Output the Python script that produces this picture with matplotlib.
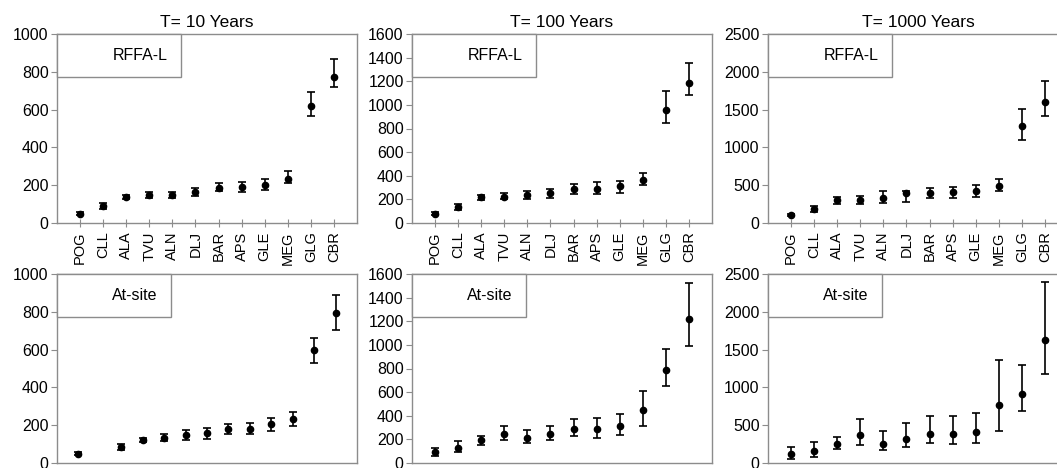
import numpy as np
import matplotlib
matplotlib.use("Agg")
import matplotlib.pyplot as plt
from matplotlib.patches import Rectangle

plt.rcParams['font.family'] = ['Liberation Sans', 'DejaVu Sans']

# Estações
stations = ['POG', 'CLL', 'ALA', 'TVU', 'ALN', 'DLJ', 'BAR', 'APS', 'GLE', 'MEG', 'GLG', 'CBR']
titles = ['T= 10 Years', 'T= 100 Years', 'T= 1000 Years']
y_max = [1000, 1600, 2500]
y_step = [200, 200, 500]

# RFFA-L (valor, limite inferior, limite superior)
rffa_10 = [48, 88, 138, 146, 150, 162, 183, 189, 199, 235, 621, 771]
rffa_10_lo = [40, 74, 127, 132, 134, 141, 168, 162, 176, 212, 568, 720]
rffa_10_hi = [57, 106, 150, 162, 164, 185, 212, 215, 233, 273, 691, 870]

rffa_100 = [79, 136, 216, 224, 235, 250, 284, 292, 312, 363, 953, 1186]
rffa_100_lo = [70, 108, 193, 199, 204, 210, 244, 244, 258, 323, 845, 1087]
rffa_100_hi = [90, 159, 238, 250, 267, 292, 329, 343, 357, 423, 1118, 1356]

rffa_1000 = [101, 190, 300, 309, 331, 392, 397, 406, 428, 494, 1287, 1600]
rffa_1000_lo = [90, 150, 256, 256, 260, 278, 331, 331, 344, 423, 1093, 1411]
rffa_1000_hi = [115, 225, 340, 362, 419, 428, 459, 481, 507, 582, 1508, 1883]

# At-site (no gráfico T=10 existe um espaço vazio na segunda posição)
at_site_10 = [50, np.nan, 84, 123, 133, 146, 157, 180, 180, 205, 231, 596, 792]
at_site_10_lo = [41, np.nan, 69, 112, 116, 123, 125, 151, 151, 169, 196, 528, 703]
at_site_10_hi = [59, np.nan, 98, 133, 151, 173, 187, 208, 212, 237, 270, 662, 888]

at_site_100 = [90, 127, 192, 248, 212, 248, 291, 291, 310, 446, 790, 1219]
at_site_100_lo = [62, 90, 155, 192, 169, 192, 226, 212, 234, 316, 649, 988]
at_site_100_hi = [127, 183, 231, 310, 282, 316, 372, 381, 418, 612, 968, 1524]

at_site_1000 = [115, 154, 247, 375, 256, 314, 389, 389, 411, 764, 910, 1625]
at_site_1000_lo = [57, 79, 181, 243, 168, 212, 265, 247, 265, 424, 689, 1175]
at_site_1000_hi = [212, 278, 340, 587, 420, 534, 623, 623, 667, 1369, 1294, 2390]

rffa = [(rffa_10, rffa_10_lo, rffa_10_hi),
        (rffa_100, rffa_100_lo, rffa_100_hi),
        (rffa_1000, rffa_1000_lo, rffa_1000_hi)]
at_site = [(at_site_10, at_site_10_lo, at_site_10_hi),
           (at_site_100, at_site_100_lo, at_site_100_hi),
           (at_site_1000, at_site_1000_lo, at_site_1000_hi)]

GRAY = '#8c8c8c'
W, H = 1057, 468
lefts = [57, 412, 768]
tops = [34, 274]
pw, ph = 300, 189


def draw_panel(ax, series, ymax, ystep, label, box_w):
    val, lo, hi = [np.array(s, dtype=float) for s in series]
    x = np.arange(len(val))
    ax.errorbar(x, val, yerr=[val - lo, hi - val], fmt='o', color='black',
                markersize=4.5, elinewidth=1.2, capsize=3, capthick=1.2)
    ax.set_xlim(-1, len(val))
    ax.set_ylim(0, ymax)
    ax.set_yticks(np.arange(0, ymax + 1, ystep))
    for sp in ax.spines.values():
        sp.set_color(GRAY)
        sp.set_linewidth(1)
    ax.tick_params(axis='y', direction='out', length=4, color=GRAY, labelsize=11.5, pad=2)
    # Caixa com o nome do método
    ax.add_patch(Rectangle((0, 1 - 0.228), box_w, 0.228, transform=ax.transAxes,
                           facecolor='white', edgecolor=GRAY, linewidth=1, zorder=5,
                           clip_on=False))
    ax.text(box_w - 0.045, 1 - 0.114, label, transform=ax.transAxes, ha='right',
            va='center', fontsize=11.5, zorder=6)


fig = plt.figure(figsize=(W / 100, H / 100), dpi=100)

for i in range(3):
    # Linha de cima: RFFA-L
    ax = fig.add_axes([lefts[i] / W, (H - tops[0] - ph) / H, pw / W, ph / H])
    draw_panel(ax, rffa[i], y_max[i], y_step[i], 'RFFA-L', 0.413)
    ax.set_xticks(np.arange(len(stations)))
    ax.set_xticklabels(stations, rotation=90, fontsize=10.5)
    ax.tick_params(axis='x', direction='inout', length=6, color=GRAY, pad=3)
    ax.set_title(titles[i], fontsize=12.5, pad=5)

    # Linha de baixo: At-site
    ax = fig.add_axes([lefts[i] / W, (H - tops[1] - ph) / H, pw / W, ph / H])
    draw_panel(ax, at_site[i], y_max[i], y_step[i], 'At-site', 0.38)
    ax.set_xticks([])

plt.savefig('out.png', dpi=100)
